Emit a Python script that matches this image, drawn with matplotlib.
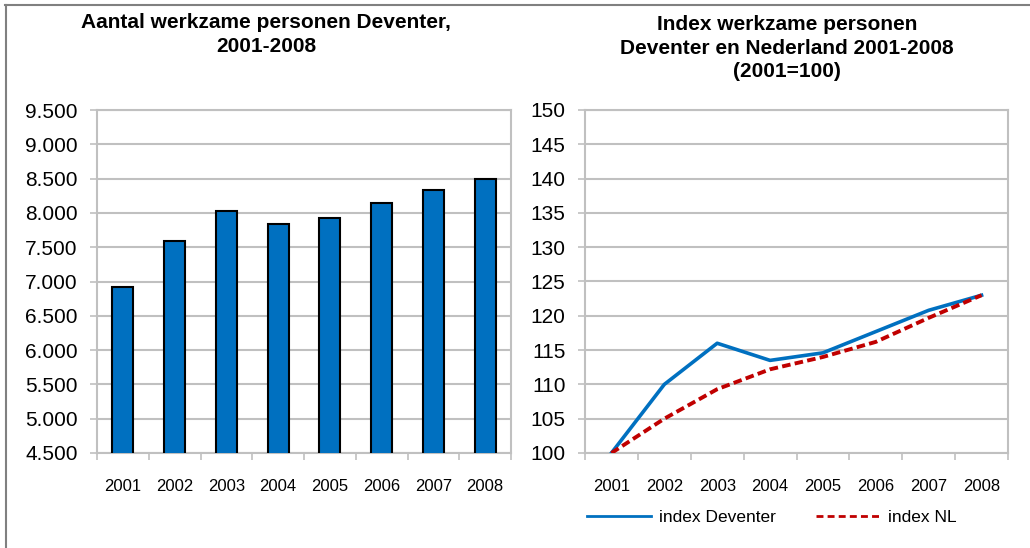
import matplotlib
matplotlib.use('Agg')
import matplotlib.pyplot as plt
from matplotlib.lines import Line2D
from matplotlib.ticker import FuncFormatter, FixedLocator

plt.rcParams['font.family'] = ['Liberation Sans', 'DejaVu Sans']

# data
years = ['2001', '2002', '2003', '2004', '2005', '2006', '2007', '2008']
werkzaam = [6920, 7590, 8030, 7840, 7920, 8140, 8340, 8500]
index_deventer = [100, 110, 116, 113.5, 114.6, 117.7, 120.8, 123]
index_nl = [100, 105, 109.3, 112.2, 114.0, 116.2, 119.7, 123]

W, H = 1030, 548
fig = plt.figure(figsize=(W / 100, H / 100), dpi=100)

def px(x0, y0, x1, y1):
    return [x0 / W, 1 - y1 / H, (x1 - x0) / W, (y1 - y0) / H]

grid_col = '#c0c0c0'

def style_axes(ax, ytick_size):
    n = len(years)
    x = range(n)
    ax.set_xlim(-0.5, n - 0.5)
    ax.set_xticks(list(x))
    ax.set_xticklabels(years, fontsize=12)
    ax.xaxis.set_minor_locator(FixedLocator([i - 0.5 for i in range(n + 1)]))
    ax.tick_params(axis='x', which='major', length=0, pad=19)
    ax.tick_params(axis='x', which='minor', length=5, width=1.2, color=grid_col)
    ax.tick_params(axis='y', length=5, width=1.2, color=grid_col, labelsize=ytick_size, pad=9)
    ax.yaxis.grid(True, color=grid_col, linewidth=1.5)
    ax.set_axisbelow(True)
    for s in ax.spines.values():
        s.set_color(grid_col)
        s.set_linewidth(1.5)

# left: bars
ax1 = fig.add_axes(px(97, 110, 511, 453))
ax1.bar(range(len(years)), werkzaam, width=0.41, bottom=0, color='#0070C0',
        edgecolor='black', linewidth=1.5, zorder=3)
ax1.set_ylim(4500, 9500)
ax1.set_yticks(range(4500, 9501, 500))
ax1.yaxis.set_major_formatter(FuncFormatter(lambda v, p: f'{int(v):,}'.replace(',', '.')))
style_axes(ax1, 15)

# right: index lines
ax2 = fig.add_axes(px(585, 110, 1008, 453))
ax2.plot(range(len(years)), index_deventer, color='#0070C0', linewidth=2.6,
         label='index Deventer', zorder=3)
ax2.plot(range(len(years)), index_nl, color='#C00000', linewidth=2.8,
         linestyle=(0, (2.2, 1.1)), label='index NL', zorder=3)
ax2.set_ylim(100, 150)
ax2.set_yticks(range(100, 151, 5))
style_axes(ax2, 15)

leg_handles = [Line2D([], [], color='#0070C0', linewidth=2.0),
               Line2D([], [], color='#C00000', linewidth=2.0, linestyle=(0, (2.5, 1.5)))]
ax2.legend(leg_handles, ['index Deventer', 'index NL'], loc='center',
           bbox_to_anchor=((772 - 585) / 423, -(517 - 453) / 343),
           ncol=2, frameon=False, fontsize=12.5, handlelength=3.7,
           handletextpad=0.45, columnspacing=2.3, borderaxespad=0)

# titles
fig.text(266 / W, 1 - 13 / H, 'Aantal werkzame personen Deventer,\n2001-2008',
         ha='center', va='top', fontsize=15, fontweight='bold', linespacing=1.3)
fig.text(787 / W, 1 - 15 / H, 'Index werkzame personen\nDeventer en Nederland 2001-2008\n(2001=100)',
         ha='center', va='top', fontsize=15, fontweight='bold', linespacing=1.3)

# outer frame (top and left edge visible)
fig.add_artist(Line2D([5 / W, 1], [1 - 5 / H, 1 - 5 / H], color='#808080', linewidth=1.5))
fig.add_artist(Line2D([6 / W, 6 / W], [0, 1 - 5 / H], color='#808080', linewidth=1.5))

fig.savefig('out.png', dpi=100)
